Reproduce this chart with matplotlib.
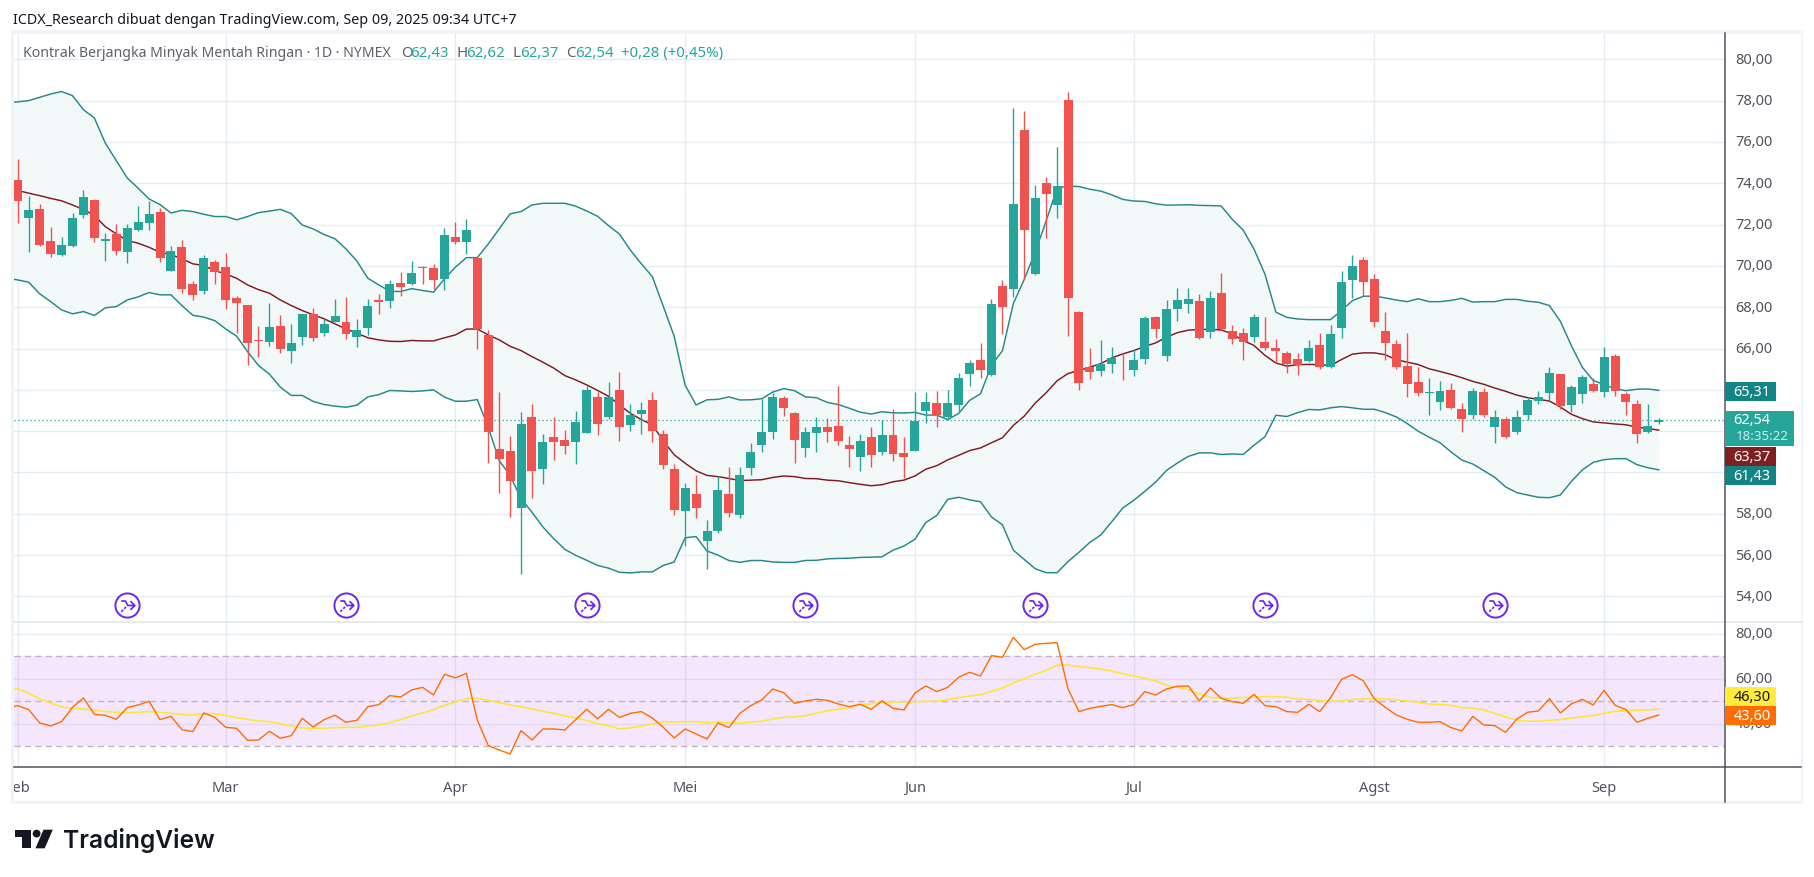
import numpy as np
import matplotlib
matplotlib.use("Agg")
import matplotlib.pyplot as plt
from matplotlib.patches import Rectangle, Polygon, Circle
from matplotlib.path import Path

# ---------- data ----------
body_top = [74.16,72.71,72.76,71.21,71.02,72.32,73.34,73.19,71.31,71.55,71.84,72.13,72.52,72.61,70.73,70.92,69.13,70.39,70.19,69.95,
 68.45,68.11,66.42,67.05,67.10,66.27,67.68,67.68,67.19,67.58,67.29,66.90,68.06,68.35,69.13,69.18,69.66,69.95,69.90,71.50,
 71.40,71.74,70.39,66.66,61.15,61.05,62.36,62.68,61.49,61.73,61.58,62.45,64.00,63.66,63.66,64.00,
 62.79,63.04,63.52,61.88,60.18,59.26,58.98,57.15,59.13,58.98,59.90,61.01,61.98,63.67,63.62,62.89,61.98,62.18,62.18,62.26,
 61.34,61.54,61.73,61.83,61.83,60.96,62.51,63.42,63.37,63.37,64.59,65.30,65.45,68.17,69.03,72.99,76.57,73.27,74.01,73.86,
 78.02,67.79,65.12,65.27,65.55,65.17,65.45,67.48,67.53,67.92,68.35,68.40,68.30,68.45,68.69,
 66.86,66.76,67.53,66.32,66.04,65.79,65.50,66.04,66.18,66.71,69.22,69.99,70.28,69.36,66.86,66.23,65.17,64.40,63.91,63.96,64.01,63.09,63.96,63.91,
 62.71,62.61,62.71,63.53,63.67,64.83,64.78,64.15,64.63,64.30,65.60,65.65,63.82,63.33,62.27,62.54]
body_bottom = [73.15,72.32,71.02,70.58,70.53,70.97,72.47,71.35,71.21,70.74,70.68,71.74,72.08,70.39,69.76,68.89,68.60,68.79,69.71,68.35,
 68.21,66.27,66.37,66.32,65.98,65.89,66.56,66.52,66.76,67.29,66.71,66.56,67.00,68.26,68.31,68.98,69.13,69.90,69.32,69.37,
 71.16,71.16,66.95,61.97,60.66,59.57,58.29,60.05,60.15,61.49,61.29,61.49,61.92,62.35,62.69,62.21,
 62.31,62.84,62.03,60.38,58.17,58.12,58.27,56.70,57.18,58.02,57.92,60.23,61.34,61.98,63.14,61.59,61.19,61.93,61.98,61.54,
 61.16,60.76,60.86,61.01,60.91,60.76,61.06,62.99,62.79,62.69,63.27,64.79,64.94,64.74,68.02,68.88,71.73,69.60,73.47,72.94,
 68.47,64.34,64.87,64.92,65.27,65.14,64.94,65.50,66.95,65.65,67.92,68.17,66.52,66.80,66.95,
 66.47,66.31,66.57,66.04,65.89,65.26,65.22,65.41,65.12,65.12,67.00,69.32,69.22,67.29,66.28,65.12,64.30,63.86,63.86,63.43,63.14,62.61,62.76,62.76,
 62.18,61.74,61.94,62.80,63.48,63.86,63.24,63.29,63.82,63.96,63.91,63.96,63.43,61.84,61.98,62.43]
highs = [75.18,73.39,73.00,71.89,71.40,72.56,73.68,73.24,71.60,72.03,72.03,72.90,73.15,72.81,70.97,71.26,69.27,70.53,70.29,70.63,
 68.55,68.11,67.10,68.21,67.63,67.19,67.68,67.97,67.44,68.40,68.50,67.44,68.40,68.65,69.32,69.71,70.24,70.00,70.10,71.84,
 72.13,72.27,70.39,66.90,63.89,61.79,62.92,63.32,61.87,62.68,62.07,62.99,64.21,63.89,64.37,64.87,
 63.32,63.42,63.91,62.08,60.43,59.51,59.90,57.70,59.83,60.28,60.28,61.44,63.56,63.86,63.72,62.94,62.18,62.69,62.66,64.19,
 61.78,61.88,62.18,62.54,63.09,61.73,63.91,63.91,63.96,64.01,64.82,65.45,66.27,68.40,69.31,77.63,77.48,73.91,74.29,75.74,
 78.40,67.82,66.04,66.42,66.09,65.80,65.99,67.57,67.57,68.35,68.93,68.93,68.65,68.78,69.65,
 67.14,67.00,67.68,67.53,66.47,65.89,65.79,66.42,66.76,67.14,69.75,70.52,70.42,69.60,67.77,66.42,66.76,65.12,64.59,64.44,64.35,63.38,64.11,64.11,
 63.04,62.71,63.04,63.67,63.96,65.12,64.78,64.25,64.73,64.59,66.09,65.75,63.91,63.53,63.33,62.62]
lows = [72.08,70.69,70.98,70.45,70.50,70.90,72.32,71.18,70.26,70.55,70.16,71.71,71.74,70.21,69.76,68.69,68.35,68.65,69.13,67.92,
 66.76,65.21,65.60,66.13,65.79,65.31,66.18,66.37,66.61,67.29,66.47,66.08,66.66,67.68,67.97,68.55,69.08,69.13,68.89,68.84,
 71.06,70.58,65.98,60.46,58.99,57.87,55.10,58.78,59.45,60.62,60.91,60.42,61.90,61.80,62.60,61.54,
 62.03,61.84,61.49,60.15,57.92,56.42,57.78,55.32,57.07,57.83,57.78,59.90,61.01,61.64,62.74,60.48,60.76,61.01,61.49,61.31,
 60.28,60.05,60.28,60.86,60.58,59.75,61.06,62.41,62.18,62.56,62.94,64.19,64.59,64.69,66.70,68.50,69.35,69.55,71.34,72.31,
 66.62,64.01,64.54,64.69,64.82,64.49,64.69,65.27,66.52,65.42,67.33,67.72,66.47,66.52,66.90,
 66.23,65.46,66.32,65.94,65.31,64.83,64.73,65.36,65.02,65.07,66.52,68.45,68.53,67.05,65.46,65.02,63.67,63.72,62.80,63.04,63.09,61.94,62.61,62.71,
 61.45,61.65,61.84,62.53,63.33,63.53,63.09,62.95,63.38,63.91,63.67,63.72,62.76,61.45,61.89,62.37]
# candles that closed above their open; every other candle is red
green_idx = [1,4,5,6,8,10,11,12,14,17,23,25,26,28,29,31,32,34,36,39,41,46,48,51,52,54,
 56,57,61,63,64,66,67,68,69,72,73,77,79,82,83,85,86,87,89,91,93,95,99,100,102,103,105,106,107,109,
 113,118,120,121,122,129,130,133,135,137,138,139,140,142,143,145,149,150]

bb_upper = [77.92,77.94,78.00,78.16,78.32,78.44,78.24,77.56,77.16,75.94,75.10,74.26,73.76,73.24,72.97,72.56,72.69,72.63,72.50,72.39,72.39,
 72.23,72.39,72.58,72.65,72.74,72.53,71.98,71.79,71.52,71.31,70.82,70.23,69.40,69.08,68.77,68.76,68.90,68.81,68.73,69.37,
 69.94,70.40,70.40,71.06,71.79,72.52,72.63,72.95,73.03,73.03,73.03,72.89,72.66,72.40,71.95,71.54,
 70.76,70.10,69.48,68.05,66.59,64.22,63.27,63.52,63.54,63.66,63.51,63.52,63.57,63.89,64.06,63.96,63.66,63.62,63.39,63.29,
 63.11,62.92,62.83,62.94,62.89,62.88,62.91,62.78,62.78,62.56,62.86,63.49,63.81,65.19,65.89,68.18,69.35,70.68,72.18,73.76,
 73.87,73.84,73.71,73.62,73.44,73.22,73.14,73.12,73.01,72.94,72.95,72.96,72.93,72.92,72.90,
 72.26,71.74,70.81,69.60,67.76,67.51,67.43,67.40,67.40,67.40,67.84,68.32,68.53,68.54,68.45,68.35,68.27,68.41,68.27,68.27,68.33,68.43,68.25,68.27,
 68.27,68.38,68.38,68.29,68.24,68.08,67.32,66.15,65.10,64.46,64.25,64.06,63.96,64.03,64.04,63.98]
bb_basis = [73.80,73.65,73.52,73.40,73.27,73.15,72.95,72.73,72.44,71.90,71.55,71.23,71.10,70.90,70.66,70.55,70.34,70.10,70.02,69.77,69.61,
 69.40,69.08,68.85,68.68,68.35,68.08,67.84,67.63,67.44,67.19,66.95,66.74,66.52,66.42,66.35,66.34,66.39,66.37,66.37,66.52,
 66.66,66.94,66.95,66.66,66.42,66.11,65.90,65.61,65.34,65.05,64.69,64.48,64.24,63.97,63.69,63.27,
 62.86,62.56,62.31,61.53,60.86,60.45,60.08,59.86,59.80,59.71,59.61,59.63,59.65,59.76,59.83,59.80,59.71,59.70,59.63,59.60,
 59.51,59.43,59.36,59.41,59.55,59.63,59.83,60.16,60.33,60.61,60.83,61.06,61.19,61.44,61.68,62.28,62.73,63.36,63.86,64.44,
 64.79,64.94,65.10,65.27,65.55,65.74,65.90,66.10,66.27,66.55,66.77,66.89,66.92,66.93,66.90,
 66.71,66.39,66.15,65.67,65.30,65.15,65.22,65.23,65.22,65.18,65.47,65.73,65.79,65.79,65.70,65.46,65.34,65.23,65.02,64.89,64.75,64.59,64.41,64.27,
 64.09,63.93,63.75,63.62,63.54,63.46,63.17,62.82,62.61,62.45,62.40,62.35,62.31,62.19,62.13,62.05]
bb_lower = [69.40,69.32,69.21,68.65,68.27,67.87,67.68,67.79,67.60,67.97,68.03,68.35,68.50,68.71,68.60,68.60,68.08,67.61,67.52,67.35,66.95,
 66.60,65.85,65.18,64.76,64.13,63.73,63.73,63.44,63.29,63.21,63.16,63.26,63.66,63.77,63.97,63.95,63.92,63.95,64.00,63.65,
 63.45,63.45,63.53,62.19,60.58,59.86,58.73,58.08,57.36,56.79,56.28,55.99,55.75,55.50,55.37,55.17,
 55.14,55.19,55.19,55.50,55.67,56.84,56.90,56.20,56.00,55.74,55.65,55.74,55.74,55.67,55.65,55.65,55.74,55.75,55.82,55.84,
 55.85,55.89,55.90,55.92,56.24,56.44,56.77,57.58,57.92,58.70,58.80,58.68,58.58,57.85,57.47,56.24,55.79,55.34,55.15,55.15,
 55.69,56.14,56.62,56.98,57.62,58.28,58.65,59.08,59.53,60.10,60.46,60.78,60.95,60.95,60.87,
 60.90,60.87,61.32,61.73,62.77,62.71,62.90,63.05,63.03,63.13,63.19,63.13,63.06,63.06,62.90,62.69,62.37,62.00,61.71,61.44,61.00,60.60,60.41,60.09,
 59.77,59.30,59.03,58.91,58.80,58.78,58.91,59.56,60.12,60.49,60.62,60.67,60.67,60.38,60.23,60.13]

rsi = [47.00,48.07,46.30,40.37,39.04,40.96,47.33,51.48,44.22,43.78,42.00,47.19,48.37,50.00,41.85,43.33,37.41,36.52,44.81,42.89,38.44,
 38.00,32.67,32.81,36.67,33.56,34.74,42.44,38.59,41.85,43.78,40.67,41.56,47.63,48.52,52.52,51.93,55.04,56.22,52.81,62.00,
 60.37,62.44,41.70,30.30,28.37,26.59,36.96,32.81,37.70,37.70,37.26,41.85,46.44,42.30,46.44,42.80,
 44.67,45.41,42.59,38.44,33.70,37.70,35.48,33.26,40.37,38.30,44.67,48.07,50.59,55.48,53.85,49.11,50.15,50.89,50.44,48.81,
 47.63,48.67,46.44,50.15,46.89,46.15,53.70,56.81,54.30,56.22,60.67,62.89,61.26,70.30,69.56,78.44,72.96,75.33,75.78,76.07,
 55.48,45.41,46.89,47.78,48.52,47.19,48.52,54.30,52.81,55.48,56.67,56.81,50.15,55.93,51.33,
 49.85,49.11,53.11,48.07,47.63,45.41,45.11,48.67,45.41,51.63,59.78,61.85,59.04,51.04,47.33,43.93,42.00,40.67,40.67,40.96,38.30,36.81,43.33,39.48,
 39.19,36.22,42.00,45.11,45.70,51.19,44.81,48.81,50.89,48.37,54.89,48.22,46.30,40.67,42.44,43.93]
rsi_ma = [56.00,55.48,53.56,51.04,49.26,47.48,46.89,46.59,46.15,45.41,45.11,44.81,45.11,45.41,45.11,44.67,44.07,43.93,44.52,44.52,43.78,
 42.74,42.00,41.26,40.96,40.07,39.04,38.15,38.00,38.00,38.30,38.44,38.44,39.04,39.48,40.52,41.85,43.48,44.81,46.30,48.22,
 49.70,51.19,51.33,50.44,49.41,48.37,47.63,46.59,45.56,44.67,43.48,42.59,41.56,40.07,39.19,37.70,
 38.15,39.04,39.93,40.96,40.81,40.96,40.96,40.52,40.67,40.52,40.37,40.81,41.11,42.15,42.89,43.04,43.63,44.67,45.85,46.44,
 47.19,48.52,48.81,49.56,49.70,49.70,49.85,50.00,50.00,50.74,51.63,52.37,52.96,54.44,55.93,58.15,60.07,62.00,63.78,66.00,
 66.15,65.41,64.96,64.37,63.48,62.30,61.26,60.22,59.04,57.11,56.22,55.19,53.26,51.78,51.33,
 51.48,51.63,51.78,52.07,52.07,51.78,51.04,50.89,50.30,50.00,50.15,50.89,51.04,51.19,51.04,50.74,50.15,49.56,48.81,48.52,48.22,47.19,47.04,46.15,
 44.67,43.04,41.70,41.11,41.11,41.56,41.85,42.59,43.19,43.63,44.67,45.56,45.85,46.00,46.15,46.59]

month_idx = [0, 19, 40, 61, 82, 102, 124, 145]
month_labels = ["Feb", "Mar", "Apr", "Mei", "Jun", "Jul", "Agst", "Sep"]
price_ticks = [54, 56, 58, 60, 62, 64, 66, 68, 70, 72, 74, 76, 78, 80]
hidden_price_labels = [60, 62, 64]   # covered by the value tags in the chart
rsi_ticks = [40, 60, 80]
event_idx = [10, 30, 52, 72, 93, 114, 135]
last_price = 62.54

# ---------- style ----------
W, H = 1814, 878
GREEN, RED = "#26a69a", "#ef5350"
GRID = "#e3ecf2"
FONT = "Noto Sans"
TXT = "#50535e"
PURPLE = "#6a26f5"
plt.rcParams["font.family"] = [FONT, "DejaVu Sans"]

L, R, T, SEP, BOT = 14.0, 1724.7, 35.0, 623.3, 768.3
X0 = 17.8; STEP = 10.94
def y_axes(ya, yb):
    return [L / W, 1 - yb / H, (R - L) / W, (yb - ya) / H]

fig = plt.figure(figsize=(W / 100, H / 100), dpi=100, facecolor="white")
ax = fig.add_axes(y_axes(T, SEP))
rx = fig.add_axes(y_axes(SEP, BOT), sharex=ax)
ax.set_xlim((L - X0) / STEP, (R - X0) / STEP)
ax.set_ylim(80 - (SEP - 60.3) / 20.66, 80 + (60.3 - T) / 20.66)
rx.set_ylim(70 - (BOT - 657.3) / 2.25, 70 + (657.3 - SEP) / 2.25)

for a in (ax, rx):
    for s in a.spines.values():
        s.set_visible(False)
    a.set_axisbelow(True)
    for m in month_idx:
        a.axvline(m, color=GRID, lw=0.95, zorder=0)
    a.yaxis.tick_right()
    a.tick_params(length=0)

for p in price_ticks:
    ax.axhline(p, color=GRID, lw=0.95, zorder=0)
ax.set_yticks(price_ticks)
ax.set_yticklabels(["" if p in hidden_price_labels else f"{p},00" for p in price_ticks],
                   color=TXT, fontsize=10.5, va="center")
ax.tick_params(axis="y", pad=7.5)
ax.tick_params(axis="x", labelbottom=False)

# Bollinger bands
xi = np.arange(len(bb_upper)) - 1
ax.fill_between(xi, bb_lower, bb_upper, color="#f2f8f8", lw=0, zorder=1)
ax.plot(xi, bb_upper, color="#22888a", lw=1.05, zorder=2)
ax.plot(xi, bb_lower, color="#22888a", lw=1.05, zorder=2)
ax.plot(xi, bb_basis, color="#801922", lw=1.05, zorder=2)

# Price line
ax.axhline(last_price, color=GREEN, lw=0.9, ls=(0, (1, 2.2)), zorder=2)

# Candles
n = len(highs)
cols = [GREEN if i in green_idx else RED for i in range(n)]
xc = np.arange(n)
ax.vlines(xc, lows, highs, colors=cols, lw=1.0, zorder=3)
ax.bar(xc, np.array(body_top) - np.array(body_bottom), 0.82, bottom=body_bottom, color=cols, lw=0, zorder=4)

# Event markers
ev_y = 80 - (606 - 60.3) / 20.66
ev_ys = [ev_y] * len(event_idx)
ax.plot(event_idx, ev_ys, ls="", marker="o", ms=17.4, mfc="white", mec=PURPLE, mew=1.4, zorder=5)
arrow = Path([(-0.85, 0.62), (-0.3, 0.62), (0.05, 0.0), (1.0, 0.0),
              (0.4, 0.6), (1.0, 0.0), (0.4, -0.6),
              (-0.2, -0.2), (-0.45, -0.45), (-0.6, -0.6), (-0.85, -0.85)],
             [Path.MOVETO, Path.LINETO, Path.LINETO, Path.LINETO,
              Path.MOVETO, Path.LINETO, Path.LINETO,
              Path.MOVETO, Path.LINETO, Path.MOVETO, Path.LINETO])
ax.plot(event_idx, ev_ys, ls="", marker=arrow, ms=10.5, mfc="none", mec=PURPLE, mew=1.25, zorder=6)

# RSI pane
rx.axhspan(30, 70, color="#f4e7fd", lw=0, zorder=0.5)
ylo, yhi = rx.get_ylim()
for m in month_idx:
    rx.axvline(m, color="#dfd8f0", lw=0.95, zorder=0.6, ymin=(30 - ylo) / (yhi - ylo), ymax=(70 - ylo) / (yhi - ylo))
for v in rsi_ticks:
    rx.axhline(v, color="#e0d8ef" if v != 80 else GRID, lw=0.95, zorder=0.7)
for v in (70, 50, 30):
    rx.axhline(v, color="#bcb5c4", lw=1.0, ls=(0, (4.5, 3)), zorder=0.8)
rx.plot(np.arange(len(rsi_ma)) - 1, rsi_ma, color="#ffe53b", lw=1.2, zorder=2)
rx.plot(np.arange(len(rsi)) - 1, rsi, color="#ff6d00", lw=1.0, zorder=3)
rx.set_yticks(rsi_ticks)
rx.set_yticklabels([f"{v},00" for v in rsi_ticks], color=TXT, fontsize=10.5, va="center")
rx.tick_params(axis="y", pad=7.5)
rx.set_xticks(month_idx)
rx.set_xticklabels(month_labels, color=TXT, fontsize=10.5, fontweight="medium")
rx.tick_params(axis="x", pad=9)

# ---------- overlay in pixel coordinates ----------
ov = fig.add_axes([0, 0, 1, 1], facecolor="none")
ov.set_xlim(0, W); ov.set_ylim(H, 0); ov.axis("off")
def rect(x0, y0, x1, y1, c, z=1):
    ov.add_patch(Rectangle((x0, y0), x1 - x0, y1 - y0, fc=c, ec="none", zorder=z))
FRAME = "#f0f3fa"
rect(0, 770, 12, 803, "white")
rect(11, 31, 14, 805, FRAME)
rect(11, 31, 1803, 34.5, FRAME)
rect(1800.5, 31, 1803, 805, FRAME)
rect(11, 802, 1803, 805, FRAME)
ov.plot([14, 1801], [SEP, SEP], color="#e0e6ee", lw=1.2, zorder=2)
ov.plot([14, 1801], [BOT, BOT], color=TXT, lw=1.1, zorder=2)
ov.plot([R, R], [34, 803], color=TXT, lw=1.1, zorder=2)

def tag(y0, y1, c, label, tc="white", x1=1775.6):
    rect(R + 0.5, y0, x1, y1, c, 3)
    ov.text(1752, (y0 + y1) / 2, label, color=tc, fontsize=10.5, ha="center", va="center", zorder=4)
tag(383.3, 401.7, "#138484", "65,31")
rect(R + 0.5, 412, 1794, 446.7, GREEN, 3)
ov.text(1752, 420.5, "62,54", color="white", fontsize=10.5, ha="center", va="center", zorder=4)
ov.text(1762.5, 436.5, "18:35:22", color="#c9ece8", fontsize=9.6, ha="center", va="center", zorder=4)
tag(448.3, 466.7, "#801f1f", "63,37")
tag(467.3, 485.7, "#138484", "61,43")
tag(688, 706.7, "#ffeb3b", "46,30", tc="#131722")
tag(707.3, 726, "#ff6d00", "43,60")

ov.text(13, 20, "ICDX_Research dibuat dengan TradingView.com, Sep 09, 2025 09:34 UTC+7",
        color="#131722", fontsize=10.3, ha="left", va="center")
LEG_Y = 53.3
def leg(x, s, c, fs=10.8):
    ov.text(x, LEG_Y, s, color=c, fontsize=fs, ha="left", va="center", zorder=5)
leg(23, "Kontrak Berjangka Minyak Mentah Ringan · 1D · NYMEX", "#5d606b", fs=10.15)
for x, s, c in [(400.7, "O", "#5d606b"), (410, "62,43", GREEN), (456.7, "H", "#5d606b"), (466, "62,62", GREEN),
                (512.7, "L", "#5d606b"), (520, "62,37", GREEN), (566, "C", "#5d606b"), (575, "62,54", GREEN),
                (620.7, "+0,28 (+0,45%)", GREEN)]:
    leg(x, s, c)

# logo
K = "#131722"
ov.add_patch(Polygon([(15, 830.7), (31, 830.7), (31, 849.3), (21.5, 849.3), (21.5, 838), (15, 838)], fc=K, ec="none"))
ov.add_patch(Circle((36.6, 834.6), 3.9, fc=K, ec="none"))
ov.add_patch(Polygon([(43.5, 830.7), (52.8, 830.7), (44.7, 849.3), (35.5, 849.3)], fc=K, ec="none"))
ov.text(62.5, 840.5, "TradingView", color=K, fontsize=17.7, family="Inter", fontweight="semibold", ha="left", va="center")

fig.savefig("out.png", dpi=100)
